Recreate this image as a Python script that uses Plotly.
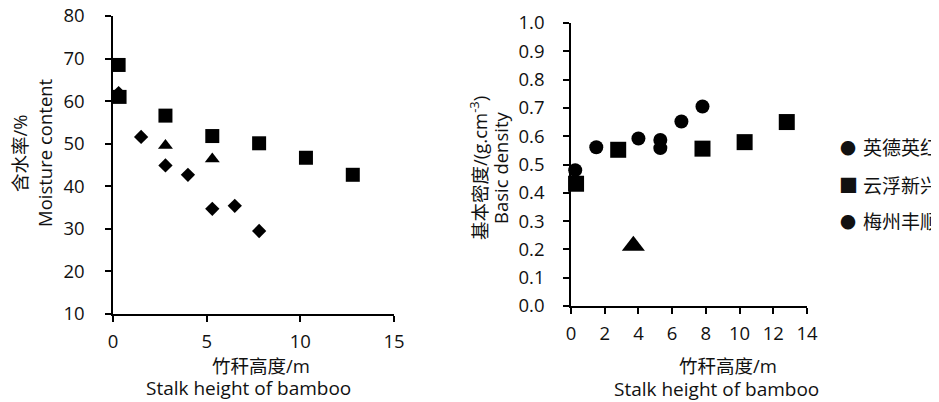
import plotly.graph_objects as go

# ---- Left chart: moisture content vs stalk height ----
mc_sq_x = [0.3, 0.35, 2.8, 5.3, 7.8, 10.3, 12.8]
mc_sq_y = [68.5, 61.0, 56.6, 51.8, 50.1, 46.7, 42.7]
mc_di_x = [0.3, 1.5, 2.8, 4.0, 5.3, 6.5, 7.8]
mc_di_y = [61.9, 51.6, 44.9, 42.7, 34.7, 35.4, 29.5]
mc_tr_x = [2.8, 5.3]
mc_tr_y = [49.6, 46.4]

# ---- Right chart: basic density vs stalk height ----
bd_ci_x = [0.25, 1.5, 4.0, 5.3, 5.3, 6.55, 7.8]
bd_ci_y = [0.48, 0.561, 0.592, 0.587, 0.558, 0.652, 0.705]
bd_sq_x = [0.3, 2.8, 7.8, 10.3, 12.8]
bd_sq_y = [0.432, 0.552, 0.556, 0.579, 0.650]
bd_tr_x = [3.7]
bd_tr_y = [0.213]

legend_names = ["英德英红", "云浮新兴", "梅州丰顺"]
legend_glyphs = ["●", "■", "●"]

left_x_ticks = [0, 5, 10, 15]
left_y_ticks = [10, 20, 30, 40, 50, 60, 70, 80]
right_x_ticks = [0, 2, 4, 6, 8, 10, 12, 14]
right_y_ticks = [0.0, 0.1, 0.2, 0.3, 0.4, 0.5, 0.6, 0.7, 0.8, 0.9, 1.0]

FONT = "Open Sans, Noto Sans CJK SC, sans-serif"
INK = "#111111"
FS = 18.5
OFF = 8                      # page body margin
W, H = 939 - OFF, 402 - OFF  # figure size


def fx(px):
    return (px - OFF) / W


def fy(py):
    return (H - (py - OFF)) / H


fig = go.Figure()


def pts(x, y, sym, size, xa="x", ya="y"):
    return go.Scatter(x=x, y=y, mode="markers", xaxis=xa, yaxis=ya,
                      marker=dict(symbol=sym, size=size, color="black", line=dict(width=0)),
                      showlegend=False, cliponaxis=False, hoverinfo="x+y")


fig.add_trace(pts(mc_di_x, mc_di_y, "diamond", 11))
fig.add_trace(pts(mc_tr_x, mc_tr_y, "triangle-up", 13))
fig.add_trace(pts(mc_sq_x, mc_sq_y, "square", 14))

fig.add_trace(pts(bd_ci_x, bd_ci_y, "circle", 14, "x2", "y2"))
fig.add_trace(pts(bd_sq_x, bd_sq_y, "square", 16, "x2", "y2"))
fig.add_trace(pts(bd_tr_x, bd_tr_y, "triangle-up", 20, "x2", "y2"))

axis_common = dict(showline=True, linecolor="black", linewidth=1.5,
                   ticks="outside", ticklen=6, tickwidth=1.5, tickcolor="black",
                   showgrid=False, zeroline=False, automargin=False,
                   ticklabeloverflow="allow",
                   tickfont=dict(family=FONT, size=FS, color=INK))

fig.update_layout(
    template="none",
    width=W, height=H, autosize=False,
    margin=dict(l=0, r=0, t=0, b=0, pad=0, autoexpand=False),
    paper_bgcolor="white", plot_bgcolor="white",
    font=dict(family=FONT, size=FS, color=INK),
    xaxis=dict(domain=[fx(113), fx(394)], range=[0, 15], tickvals=left_x_ticks,
               anchor="y", ticklabelstandoff=4, **axis_common),
    yaxis=dict(domain=[fy(314), fy(16)], range=[10, 80], tickvals=left_y_ticks,
               anchor="x", ticklabelstandoff=17, **axis_common),
    xaxis2=dict(domain=[fx(571), fx(807)], range=[0, 14], tickvals=right_x_ticks,
                anchor="y2", ticklabelstandoff=4, **axis_common),
    yaxis2=dict(domain=[fy(306), fy(23)], range=[0, 1], tickvals=right_y_ticks,
                tickformat=".1f", anchor="x2", ticklabelstandoff=15, **axis_common),
    showlegend=False,
)


def label(text, px, py, angle=0, xanchor="center", size=FS):
    fig.add_annotation(text=text, x=fx(px), y=fy(py), xref="paper", yref="paper",
                       xanchor=xanchor, yanchor="middle", showarrow=False, textangle=angle,
                       font=dict(family=FONT, size=size, color=INK))


label("含水率/%", 19, 153, -90)
label("Moisture content", 44, 153, -90)
label("竹秆高度/m", 261, 365)
label("Stalk height of bamboo", 248, 388, size=19)

label("基本密度/(g.cm<sup>-3</sup>)", 478, 168, -90)
label("Basic density", 500, 168, -90)
label("竹秆高度/m", 728, 365)
label("Stalk height of bamboo", 716, 389, size=19)

# legend (glyph + name)
legend_rows = [148, 186, 222]
for g, nm, ry in zip(legend_glyphs, legend_names, legend_rows):
    label(g, 848, ry, size=16 if g == "●" else 19)
    label(nm, 861, ry, xanchor="left", size=19)

fig.write_html("out.html")
